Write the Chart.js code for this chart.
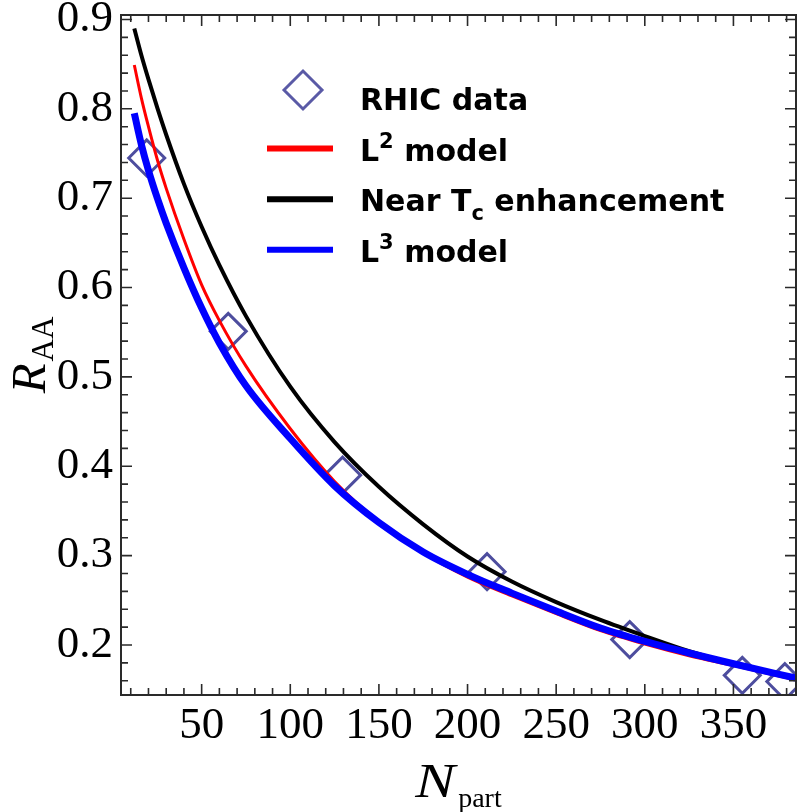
<!DOCTYPE html>
<html>
<head>
<meta charset="utf-8">
<title>R_AA vs N_part</title>
<script src="https://cdn.jsdelivr.net/npm/chart.js@4.4.1/dist/chart.umd.min.js"></script>
<style>
  html, body { margin: 0; padding: 0; background: #fff; }
  #wrap { position: relative; width: 798px; height: 812px; }
</style>
</head>
<body>
<div id="wrap"><canvas id="raaChart" width="798" height="812"></canvas></div>
<script>
// Model curves sampled on a common N_part grid
const npartGrid   = [12, 16, 20, 25, 30, 40, 50, 60, 75, 100, 125, 150, 175, 200, 225, 250, 275, 300, 325, 350, 385];
const l2Model     = [0.849, 0.812, 0.780, 0.743, 0.711, 0.654, 0.603, 0.563, 0.512, 0.442, 0.383, 0.338, 0.303, 0.276, 0.255, 0.235, 0.216, 0.201, 0.188, 0.177, 0.161];
const nearTcModel = [0.890, 0.860, 0.833, 0.801, 0.771, 0.716, 0.668, 0.625, 0.568, 0.489, 0.427, 0.377, 0.335, 0.299, 0.271, 0.248, 0.228, 0.210, 0.193, 0.179, 0.163];
const l3Model     = [0.795, 0.760, 0.731, 0.700, 0.672, 0.622, 0.577, 0.538, 0.490, 0.431, 0.378, 0.337, 0.304, 0.279, 0.258, 0.238, 0.219, 0.204, 0.191, 0.179, 0.163];

// Measured points
const rhicNpart = [19, 65, 129.5, 211, 291.5, 355, 379];
const rhicRaa   = [0.745, 0.551, 0.390, 0.282, 0.206, 0.166, 0.159];

// Axis ticks
const xTickValues = [50, 100, 150, 200, 250, 300, 350];
const yTickValues = [0.2, 0.3, 0.4, 0.5, 0.6, 0.7, 0.8, 0.9];

const toPoints = (xs, ys) => xs.map((x, i) => ({ x: x, y: ys[i] }));

const lineSet = (label, values, color, width, order) => ({
  label: label,
  data: toPoints(npartGrid, values),
  showLine: true,
  borderColor: color,
  backgroundColor: color,
  borderWidth: width,
  pointRadius: 0,
  cubicInterpolationMode: 'monotone',
  order: order,
  clip: 0,
});

// Legend rows: text runs with optional sup/sub
const legendRows = [
  { mark: 'diamond', runs: [['RHIC data']] },
  { mark: '#ff0000', runs: [['L'], ['2', 'sup'], [' model']] },
  { mark: '#000000', runs: [['Near T'], ['c', 'sub'], [' enhancement']] },
  { mark: '#0000ff', runs: [['L'], ['3', 'sup'], [' model']] },
];

/**
 * Mathematica-style frame with inward ticks on all four sides
 */
const framePlugin = {
  id: 'frame',
  afterDatasetsDraw(chart) {
    const { ctx, chartArea: a, scales: { x, y } } = chart;
    ctx.save();
    ctx.strokeStyle = '#2a2a2a';
    ctx.lineWidth = 2;
    ctx.strokeRect(a.left, a.top, a.right - a.left, a.bottom - a.top);

    ctx.lineWidth = 1.6;
    ctx.beginPath();
    for (let v = 10; v <= 380; v += 10) {
      const px = x.getPixelForValue(v);
      const len = v % 50 === 0 ? 11 : 7;
      ctx.moveTo(px, a.bottom); ctx.lineTo(px, a.bottom - len);
      ctx.moveTo(px, a.top); ctx.lineTo(px, a.top + len);
    }
    for (let k = 8; k <= 45; k++) {
      const py = y.getPixelForValue(k * 0.02);
      const len = k % 5 === 0 ? 11 : 7;
      ctx.moveTo(a.left, py); ctx.lineTo(a.left + len, py);
      ctx.moveTo(a.right, py); ctx.lineTo(a.right - len, py);
    }
    ctx.stroke();
    ctx.restore();
  }
};

/**
 * Axis titles (with subscripts) and the legend box
 */
const labelPlugin = {
  id: 'labels',
  afterDraw(chart) {
    const { ctx, chartArea: a } = chart;
    ctx.save();
    ctx.fillStyle = '#000';
    ctx.textAlign = 'left';
    ctx.textBaseline = 'alphabetic';

    // x title: N_part (the N is a bit wider than plain Times italic)
    const bigFont = 'italic 49px "Liberation Serif"';
    const subFont = '28px "Liberation Serif"';
    const nStretch = 1.22;
    ctx.font = bigFont;
    const nW = ctx.measureText('N').width * nStretch;
    ctx.font = subFont;
    const partW = ctx.measureText('part').width;
    const x0 = (a.left + a.right) / 2 - (nW + 3 + partW) / 2;
    ctx.save();
    ctx.translate(x0, chart.height - 15);
    ctx.scale(nStretch, 1);
    ctx.font = bigFont;
    ctx.fillText('N', 0, 0);
    ctx.restore();
    ctx.font = subFont;
    ctx.fillText('part', x0 + nW + 3, chart.height - 5);

    // y title: R_AA, rotated
    ctx.font = bigFont;
    const rW = ctx.measureText('R').width;
    ctx.font = '31px "Liberation Serif"';
    const aaW = ctx.measureText('AA').width;
    ctx.save();
    ctx.translate(45, (a.top + a.bottom) / 2 + (rW + 2 + aaW) / 2);
    ctx.rotate(-Math.PI / 2);
    ctx.font = bigFont;
    ctx.fillText('R', 0, 0);
    ctx.font = '31px "Liberation Serif"';
    ctx.fillText('AA', rW + 2, 8);
    ctx.restore();

    // legend
    const textX = 360;
    legendRows.forEach((row, i) => {
      const base = 110 + i * 50.6;
      if (row.mark === 'diamond') {
        const cx = 303, cy = base - 20, r = 19;
        ctx.strokeStyle = '#5a5aa6';
        ctx.lineWidth = 3;
        ctx.beginPath();
        ctx.moveTo(cx - r, cy); ctx.lineTo(cx, cy - r);
        ctx.lineTo(cx + r, cy); ctx.lineTo(cx, cy + r);
        ctx.closePath();
        ctx.stroke();
      } else {
        ctx.strokeStyle = row.mark;
        ctx.lineWidth = 6;
        ctx.beginPath();
        ctx.moveTo(267, base - 12);
        ctx.lineTo(333, base - 12);
        ctx.stroke();
      }
      let tx = textX;
      row.runs.forEach(([text, kind]) => {
        let dy = 0;
        if (kind === 'sup') { ctx.font = 'bold 21px "DejaVu Sans"'; dy = -13; }
        else if (kind === 'sub') { ctx.font = 'bold 21px "DejaVu Sans"'; dy = 9; }
        else { ctx.font = 'bold 30px "DejaVu Sans"'; }
        ctx.fillText(text, tx, base + dy);
        tx += ctx.measureText(text).width;
      });
    });
    ctx.restore();
  }
};

const tickFont = { family: '"Liberation Serif"', size: 45 };

new Chart(document.getElementById('raaChart'), {
  type: 'scatter',
  data: {
    datasets: [
      lineSet('L3 model', l3Model, '#0000ff', 7, 1),
      lineSet('Near Tc enhancement', nearTcModel, '#000000', 4, 2),
      lineSet('L2 model', l2Model, '#ff0000', 3, 3),
      {
        label: 'RHIC data',
        data: toPoints(rhicNpart, rhicRaa),
        showLine: false,
        pointStyle: 'rectRot',
        pointRadius: 18,
        pointBorderWidth: 3,
        pointBorderColor: '#4d4d9e',
        pointBackgroundColor: 'rgba(0,0,0,0)',
        order: 4,
        clip: 0,
      },
    ],
  },
  options: {
    responsive: false,
    animation: false,
    layout: { autoPadding: false, padding: { top: 15, right: 2, left: 0, bottom: 0 } },
    plugins: {
      legend: { display: false },
      tooltip: { enabled: false },
    },
    scales: {
      x: {
        type: 'linear',
        min: 4.5,
        max: 385.3,
        grid: { display: false, drawTicks: false },
        border: { display: false },
        ticks: {
          font: tickFont,
          color: '#000',
          padding: 4,
          maxRotation: 0,
          autoSkip: false,
          callback: (v) => String(v),
        },
        afterBuildTicks: (s) => { s.ticks = xTickValues.map(v => ({ value: v })); },
        afterFit: (s) => { s.height = 117; s.paddingLeft = 0; s.paddingRight = 0; },
      },
      y: {
        type: 'linear',
        min: 0.144,
        max: 0.905,
        grid: { display: false, drawTicks: false },
        border: { display: false },
        ticks: {
          font: tickFont,
          color: '#000',
          padding: 8,
          autoSkip: false,
          callback: (v) => v.toFixed(1),
        },
        afterBuildTicks: (s) => { s.ticks = yTickValues.map(v => ({ value: v })); },
        afterFit: (s) => { s.width = 121; s.paddingTop = 0; s.paddingBottom = 0; },
      },
    },
  },
  plugins: [framePlugin, labelPlugin],
});
</script>
</body>
</html>
